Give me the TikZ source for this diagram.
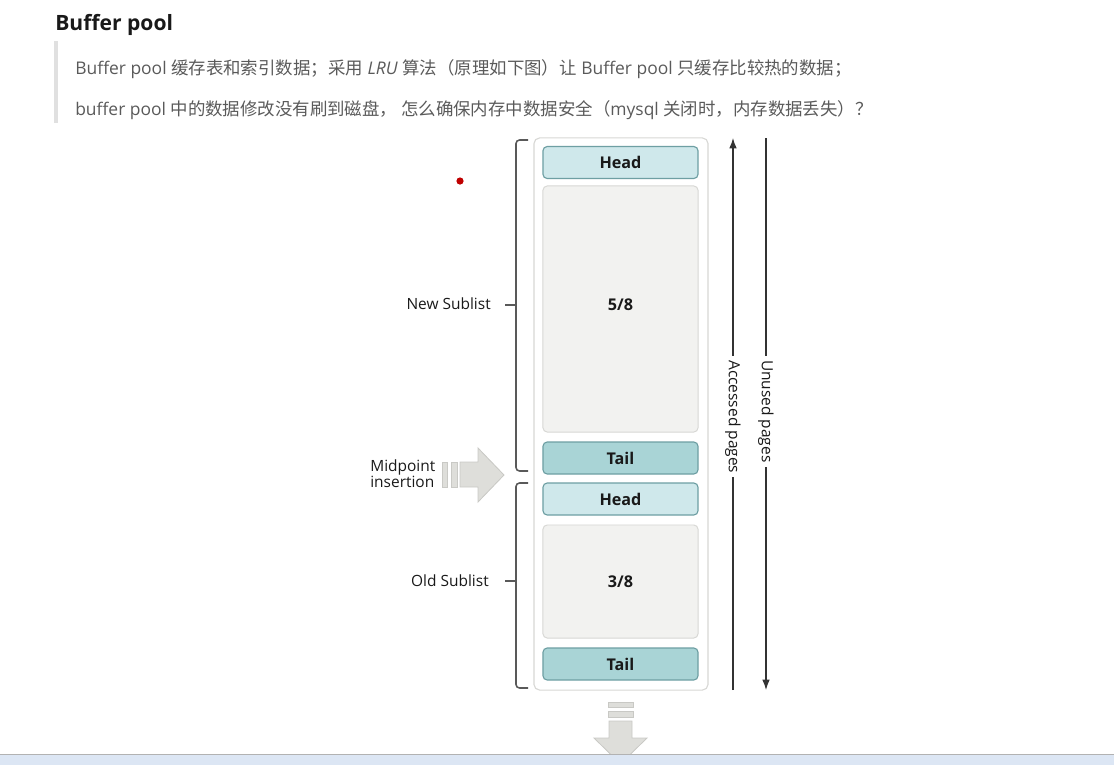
\documentclass[tikz,border=0pt]{standalone}
\usepackage{fontspec}
\setmainfont{Open Sans}
\newfontfamily\cjk{Noto Sans CJK SC}
\newcommand{\zh}[1]{{\cjk #1}}
\usepackage{tikz}
\usetikzlibrary{arrows.meta, positioning}
\definecolor{pageTeal}{HTML}{CFE8EB}
\definecolor{tailTeal}{HTML}{A9D4D6}
\definecolor{tealEdge}{HTML}{6E9FA3}
\definecolor{poolGray}{HTML}{F2F2F0}
\definecolor{poolEdge}{HTML}{D8D8D5}
\definecolor{arrowGray}{HTML}{DEDEDA}
\definecolor{arrowEdge}{HTML}{C9C9C5}
\definecolor{textGray}{HTML}{5A5A5A}
\definecolor{barBlue}{HTML}{DCE6F4}

\begin{document}
\begin{tikzpicture}[x=0.025cm, y=-0.025cm,
  every node/.style={font=\fontsize{11}{12}\selectfont, text=black!90},
  page/.style={draw=tealEdge, fill=pageTeal, rounded corners=3pt, line width=0.8pt,
               minimum width=3.875cm, minimum height=0.8cm, inner sep=0pt,
               font=\fontsize{11.5}{12}\selectfont\bfseries},
  tailpage/.style={page, fill=tailTeal},
  sublist/.style={draw=poolEdge, fill=poolGray, rounded corners=3pt, line width=0.7pt,
                  minimum width=3.875cm, inner sep=0pt,
                  font=\fontsize{11.5}{12}\selectfont\bfseries},
  brace/.style={draw=black!65, line width=1.1pt, rounded corners=2.5pt},
  pagearrow/.style={draw=black!80, line width=0.8pt},
  sidelabel/.style={fill=white, rotate=-90, inner sep=3pt},
  blockarrow/.style={draw=arrowEdge, fill=arrowGray, line width=0.6pt},
]
\useasboundingbox (0,0) rectangle (1114,765);

% Heading and quote
\node[anchor=base west, inner sep=0pt, font=\fontsize{15}{16}\selectfont\bfseries, text=black!90]
  (title) at (55,30) {Buffer pool};
\fill[black!12] (54,41) rectangle (58,123);
\node[anchor=west, inner sep=0pt, font=\fontsize{12.4}{13}\selectfont, text=textGray] (line1) at (75,69)
  {Buffer pool \zh{缓存表和索引数据；采用} \textit{LRU} \zh{算法（原理如下图）让} Buffer pool \zh{只缓存比较热的数据；}};
\node[anchor=west, inner sep=0pt, font=\fontsize{12.4}{13}\selectfont, text=textGray] (line2) at (75,110)
  {buffer pool \zh{中的数据修改没有刷到磁盘，\ 怎么确保内存中数据安全（}mysql \zh{关闭时，内存数据丢失）？}};

% Buffer pool column
\node[draw=poolEdge, fill=white, rounded corners=4pt, line width=0.8pt,
      minimum width=4.35cm, minimum height=13.8cm] (pool) at (621,414) {};
\node[page] (newhead) at (620.5,162.5) {Head};
\node[sublist, minimum height=6.15cm] (newbody) at (620.5,309) {};
\node (newshare) at (620.5,305) {\fontsize{11.5}{12}\selectfont\bfseries 5/8};
\node[tailpage] (newtail) at (620.5,458) {Tail};
\node[page] (oldhead) at (620.5,499) {Head};
\node[sublist, minimum height=2.825cm] (oldbody) at (620.5,581.5) {3/8};
\node[tailpage] (oldtail) at (620.5,664) {Tail};

% Sublist brackets
\draw[brace] (528,140) -- (516,140) -- (516,471) -- (528,471);
\draw[brace] (516,305) -- (505,305);
\node[anchor=east, inner sep=0pt] (newlabel) at (491,304) {New Sublist};
\draw[brace] (528,483) -- (516,483) -- (516,688) -- (528,688);
\draw[brace] (516,581) -- (505,581);
\node[anchor=east, inner sep=0pt] (oldlabel) at (489,581) {Old Sublist};

% Page arrows
\coordinate (accbot) at (733,690);
\coordinate (acctop) at (733,138);
\draw[pagearrow, -{Latex[length=2.6mm, width=1.9mm]}] (accbot) -- (acctop)
  node[sidelabel, pos=0.495] (acclabel) {Accessed pages};
\coordinate (unustop) at (766,138);
\coordinate (unusbot) at (766,690);
\draw[pagearrow, -{Latex[length=2.6mm, width=1.9mm]}] (unustop) -- (unusbot)
  node[sidelabel, pos=0.495] (unuslabel) {Unused pages};

% Midpoint insertion
\node[anchor=west, align=left, inner sep=0pt, font=\fontsize{11}{11.6}\selectfont] (midlabel) at (370,474)
  {Midpoint\\insertion};
\draw[blockarrow] (442,462) rectangle (447,487);
\draw[blockarrow] (451,462) rectangle (457,487);
\draw[blockarrow] (460,462) -- (478,462) -- (478,448) -- (504,475) -- (478,502)
  -- (478,487) -- (460,487) -- cycle;

% Eviction arrow
\draw[blockarrow] (608,702) rectangle (633,707);
\draw[blockarrow] (608,711) rectangle (633,717);
\draw[blockarrow] (609,721) -- (632,721) -- (632,738) -- (647,738) -- (620.5,764)
  -- (594,738) -- (609,738) -- cycle;

% Marker dot and window strip
\fill[red!75!black] (460,181) circle (3.6);
\fill[barBlue] (0,754) rectangle (1114,765);
\draw[black!30, line width=0.6pt] (0,754) -- (1114,754);
\end{tikzpicture}
\end{document}
